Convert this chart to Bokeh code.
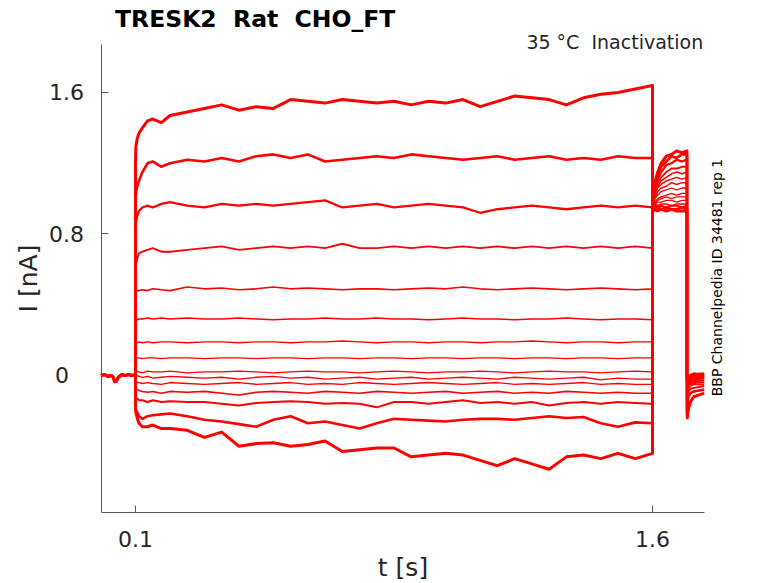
import math
from bokeh.plotting import figure
from bokeh.models import Range1d, Label, FixedTicker
from bokeh.embed import file_html
from bokeh.resources import INLINE

# ---------------- data ----------------
x_ticks = [0.1, 1.6]
y_ticks = [0.0, 0.8, 1.6]
x_axis_span = [0.0, 1.75]
y_axis_span = [-0.775, 1.871]

# holding period before the step (all sweeps overlap here)
t_base = [0.0, 0.01, 0.02, 0.03, 0.035, 0.04, 0.045, 0.05, 0.06, 0.07, 0.08, 0.09, 0.1]
i_base = [0.0, 0.005, -0.005, 0.0, -0.01, -0.035, -0.03, -0.01, 0.005, 0.0, 0.005, 0.0, 0.005]

# conditioning step 0.1 .. 1.6 s
t_step = [0.1, 0.101, 0.105, 0.11, 0.12, 0.135, 0.15, 0.175, 0.2, 0.25, 0.3, 0.35, 0.4,
          0.45, 0.5, 0.55, 0.6, 0.65, 0.7, 0.75, 0.8, 0.85, 0.9, 0.95, 1.0, 1.05, 1.1,
          1.15, 1.2, 1.25, 1.3, 1.35, 1.4, 1.45, 1.5, 1.55, 1.6]
i_step = [
    [1.20, 1.29, 1.34, 1.37, 1.40, 1.44, 1.45, 1.43, 1.47, 1.49, 1.51, 1.53, 1.50, 1.52, 1.51, 1.56, 1.55, 1.54, 1.56,
     1.55, 1.54, 1.55, 1.53, 1.55, 1.54, 1.56, 1.52, 1.55, 1.58, 1.57, 1.56, 1.53, 1.57, 1.59, 1.60, 1.62, 1.64],
    [0.95, 1.02, 1.07, 1.10, 1.15, 1.20, 1.21, 1.18, 1.20, 1.22, 1.21, 1.23, 1.21, 1.24, 1.25, 1.23, 1.25, 1.21, 1.22,
     1.23, 1.24, 1.23, 1.25, 1.24, 1.23, 1.22, 1.23, 1.24, 1.22, 1.23, 1.24, 1.22, 1.23, 1.22, 1.24, 1.23, 1.23],
    [0.80, 0.86, 0.90, 0.93, 0.95, 0.96, 0.95, 0.97, 0.98, 0.96, 0.95, 0.97, 0.96, 0.97, 0.96, 0.97, 0.98, 0.99, 0.95,
     0.96, 0.97, 0.95, 0.96, 0.97, 0.96, 0.95, 0.92, 0.94, 0.95, 0.96, 0.95, 0.94, 0.95, 0.96, 0.95, 0.96, 0.95],
    [0.58, 0.62, 0.66, 0.69, 0.70, 0.71, 0.72, 0.70, 0.70, 0.71, 0.72, 0.73, 0.71, 0.72, 0.73, 0.72, 0.73, 0.72, 0.745,
     0.72, 0.72, 0.73, 0.72, 0.73, 0.72, 0.73, 0.72, 0.73, 0.72, 0.73, 0.72, 0.73, 0.72, 0.73, 0.72, 0.73, 0.72],
    [0.44, 0.47, 0.48, 0.48, 0.485, 0.48, 0.49, 0.485, 0.48, 0.50, 0.49, 0.495, 0.485, 0.49, 0.50, 0.49, 0.495, 0.49,
     0.485, 0.49, 0.49, 0.485, 0.49, 0.495, 0.49, 0.50, 0.49, 0.485, 0.49, 0.495, 0.49, 0.485, 0.49, 0.495, 0.49, 0.485, 0.49],
    [0.29, 0.31, 0.315, 0.32, 0.32, 0.325, 0.32, 0.325, 0.32, 0.325, 0.32, 0.32, 0.325, 0.32, 0.315, 0.32, 0.32, 0.325,
     0.32, 0.32, 0.325, 0.32, 0.32, 0.315, 0.32, 0.325, 0.32, 0.32, 0.315, 0.32, 0.32, 0.325, 0.32, 0.315, 0.32, 0.32, 0.315],
    [0.17, 0.18, 0.185, 0.19, 0.185, 0.19, 0.185, 0.19, 0.19, 0.185, 0.19, 0.19, 0.185, 0.19, 0.19, 0.185, 0.19, 0.19,
     0.195, 0.19, 0.185, 0.19, 0.19, 0.185, 0.19, 0.19, 0.185, 0.19, 0.19, 0.195, 0.19, 0.185, 0.19, 0.19, 0.185, 0.19, 0.19],
    [0.09, 0.095, 0.10, 0.10, 0.095, 0.10, 0.10, 0.095, 0.10, 0.10, 0.095, 0.10, 0.10, 0.095, 0.10, 0.10, 0.095, 0.10,
     0.10, 0.095, 0.10, 0.10, 0.095, 0.10, 0.10, 0.095, 0.10, 0.10, 0.095, 0.10, 0.10, 0.095, 0.10, 0.10, 0.095, 0.10, 0.10],
    [0.015, 0.02, 0.025, 0.02, 0.015, 0.025, 0.02, 0.02, 0.025, 0.015, 0.02, 0.02, 0.025, 0.02, 0.015, 0.02, 0.025, 0.02,
     0.02, 0.015, 0.02, 0.025, 0.02, 0.015, 0.02, 0.02, 0.025, 0.02, 0.015, 0.02, 0.025, 0.02, 0.02, 0.015, 0.02, 0.025, 0.02],
    [-0.01, -0.005, 0.0, -0.005, -0.01, -0.005, -0.015, -0.01, -0.005, -0.01, -0.015, -0.01, -0.02, -0.01, -0.005, -0.015,
     -0.01, -0.02, -0.015, -0.01, -0.02, -0.015, -0.01, -0.02, -0.015, -0.01, -0.015, -0.02, -0.01, -0.015, -0.02, -0.015,
     -0.01, -0.025, -0.015, -0.02, -0.02],
    [-0.03, -0.035, -0.04, -0.04, -0.045, -0.04, -0.045, -0.05, -0.04, -0.045, -0.05, -0.045, -0.04, -0.05, -0.045, -0.04,
     -0.05, -0.045, -0.05, -0.04, -0.045, -0.05, -0.045, -0.04, -0.045, -0.05, -0.045, -0.04, -0.05, -0.045, -0.05, -0.045,
     -0.04, -0.05, -0.045, -0.05, -0.05],
    [-0.06, -0.07, -0.08, -0.085, -0.09, -0.095, -0.09, -0.10, -0.09, -0.095, -0.09, -0.10, -0.11, -0.095, -0.09, -0.095,
     -0.10, -0.09, -0.095, -0.10, -0.09, -0.095, -0.10, -0.095, -0.09, -0.10, -0.095, -0.09, -0.10, -0.095, -0.10, -0.09,
     -0.095, -0.10, -0.095, -0.10, -0.10],
    [-0.12, -0.13, -0.13, -0.14, -0.14, -0.15, -0.14, -0.15, -0.145, -0.15, -0.15, -0.16, -0.17, -0.155, -0.15, -0.145,
     -0.15, -0.16, -0.155, -0.16, -0.18, -0.15, -0.15, -0.16, -0.15, -0.14, -0.155, -0.15, -0.16, -0.15, -0.17, -0.155,
     -0.15, -0.16, -0.15, -0.155, -0.16],
    [-0.17, -0.19, -0.21, -0.23, -0.245, -0.23, -0.225, -0.22, -0.215, -0.23, -0.25, -0.26, -0.275, -0.29, -0.25, -0.23,
     -0.27, -0.26, -0.28, -0.30, -0.27, -0.245, -0.25, -0.255, -0.26, -0.25, -0.245, -0.245, -0.25, -0.24, -0.23, -0.24,
     -0.235, -0.27, -0.29, -0.265, -0.27],
    [-0.19, -0.21, -0.24, -0.27, -0.29, -0.29, -0.28, -0.30, -0.30, -0.31, -0.35, -0.32, -0.40, -0.385, -0.38, -0.40,
     -0.39, -0.37, -0.43, -0.42, -0.41, -0.41, -0.46, -0.45, -0.44, -0.45, -0.48, -0.51, -0.47, -0.50, -0.53, -0.46,
     -0.45, -0.47, -0.44, -0.47, -0.44],
]

# test pulse 1.6 .. 1.7 s
t_tail = [1.6, 1.602, 1.607, 1.615, 1.625, 1.64, 1.655, 1.67, 1.685, 1.7]
i_tail = [
    [0.97, 1.02, 1.09, 1.15, 1.20, 1.24, 1.25, 1.27, 1.26, 1.27],
    [0.96, 1.00, 1.08, 1.13, 1.18, 1.21, 1.24, 1.23, 1.25, 1.25],
    [0.95, 0.99, 1.06, 1.11, 1.15, 1.19, 1.20, 1.22, 1.21, 1.22],
    [0.96, 0.99, 1.05, 1.09, 1.12, 1.15, 1.17, 1.17, 1.18, 1.18],
    [0.95, 0.98, 1.03, 1.07, 1.10, 1.12, 1.14, 1.15, 1.14, 1.15],
    [0.96, 0.98, 1.02, 1.06, 1.08, 1.10, 1.11, 1.12, 1.11, 1.12],
    [0.95, 0.97, 1.00, 1.04, 1.06, 1.07, 1.09, 1.08, 1.09, 1.09],
    [0.96, 0.97, 1.00, 1.02, 1.04, 1.05, 1.06, 1.05, 1.06, 1.06],
    [0.95, 0.96, 0.98, 1.00, 1.01, 1.02, 1.03, 1.02, 1.03, 1.03],
    [0.96, 0.96, 0.98, 0.99, 1.00, 1.01, 1.00, 1.01, 1.01, 1.01],
    [0.95, 0.96, 0.97, 0.98, 0.98, 0.99, 0.99, 0.98, 0.99, 0.99],
    [0.96, 0.96, 0.97, 0.96, 0.97, 0.97, 0.96, 0.97, 0.97, 0.97],
    [0.95, 0.95, 0.96, 0.95, 0.96, 0.95, 0.96, 0.96, 0.95, 0.96],
    [0.94, 0.95, 0.94, 0.95, 0.94, 0.95, 0.94, 0.94, 0.95, 0.94],
    [0.94, 0.93, 0.94, 0.93, 0.94, 0.93, 0.94, 0.93, 0.93, 0.93],
]

# return to holding 1.7 .. 1.75 s
t_post = [1.7, 1.701, 1.704, 1.71, 1.72, 1.735, 1.75]
i_post = [
    [0.01, -0.03, -0.01, 0.0, 0.01, 0.005, 0.01],
    [0.0, -0.04, -0.015, -0.005, 0.0, 0.01, 0.005],
    [-0.01, -0.05, -0.02, -0.01, -0.005, 0.0, 0.0],
    [-0.01, -0.05, -0.025, -0.015, -0.01, -0.005, -0.01],
    [-0.02, -0.06, -0.03, -0.02, -0.015, -0.01, -0.01],
    [-0.02, -0.06, -0.035, -0.025, -0.02, -0.015, -0.02],
    [-0.03, -0.07, -0.04, -0.03, -0.025, -0.02, -0.02],
    [-0.03, -0.07, -0.045, -0.035, -0.03, -0.025, -0.03],
    [-0.04, -0.08, -0.05, -0.04, -0.035, -0.03, -0.03],
    [-0.04, -0.08, -0.055, -0.045, -0.04, -0.035, -0.04],
    [-0.05, -0.09, -0.06, -0.05, -0.045, -0.04, -0.04],
    [-0.06, -0.10, -0.07, -0.06, -0.05, -0.05, -0.05],
    [-0.08, -0.12, -0.09, -0.075, -0.07, -0.065, -0.06],
    [-0.12, -0.16, -0.12, -0.10, -0.09, -0.085, -0.08],
    [-0.20, -0.24, -0.19, -0.15, -0.12, -0.11, -0.10],
]

# double spaces kept visible with a no-break space
title_text = "TRESK2 \u00a0Rat \u00a0CHO_FT"
cond_text = "35 \u00b0C \u00a0Inactivation"
side_text = "BBP Channelpedia ID 34481 rep 1"

# ---------------- styles ----------------
FONT = "DejaVu Sans"
TXT = "#262626"
AXC = "#555555"
trace_widths = [3.0, 2.6, 2.3, 1.9, 1.6, 1.5, 1.4, 1.3, 1.3, 1.3, 1.4, 1.6, 2.0, 2.6, 3.0]

# the frame covers the whole canvas; the axes are pinned at fixed data
# locations inside it, so nothing (axes, labels, texts) gets clipped
p = figure(width=776, height=581,
           x_range=Range1d(-0.29168, 1.95975), y_range=Range1d(-1.16466, 2.1201),
           output_backend="svg", toolbar_location=None,
           min_border=0, min_border_left=0, min_border_right=0,
           min_border_top=0, min_border_bottom=0)
p.outline_line_color = None
p.grid.visible = False
p.background_fill_color = "white"
p.border_fill_color = "white"

for k in range(len(i_step)):
    xs = t_base + t_step + t_tail + t_post
    ys = i_base + i_step[k] + i_tail[k] + i_post[k]
    p.line(xs, ys, line_color="#ff0000", line_width=trace_widths[k], line_join="round")

for ax in (p.xaxis[0], p.yaxis[0]):
    ax.axis_line_color = AXC
    ax.axis_line_width = 1
    ax.major_tick_line_color = AXC
    ax.major_tick_in = 7
    ax.major_tick_out = 0
    ax.minor_tick_line_color = None
    ax.major_label_text_font = FONT
    ax.major_label_text_font_size = "22px"
    ax.major_label_text_color = TXT
    ax.axis_label_text_font = FONT
    ax.axis_label_text_font_size = "25px"
    ax.axis_label_text_font_style = "normal"
    ax.axis_label_text_color = TXT

p.xaxis.fixed_location = y_axis_span[0]
p.yaxis.fixed_location = x_axis_span[0]
p.xaxis.bounds = (x_axis_span[0], x_axis_span[1])
p.yaxis.bounds = (y_axis_span[0], y_axis_span[1])
p.xaxis.ticker = FixedTicker(ticks=x_ticks)
p.yaxis.ticker = FixedTicker(ticks=y_ticks)
p.xaxis.major_label_overrides = {0.1: "0.1", 1.6: "1.6"}
# the "0" label sits further left in the reference; it is drawn as a Label below
p.yaxis.major_label_overrides = {0.0: "", 0.8: "0.8", 1.6: "1.6"}
p.xaxis.axis_label = "t [s]"
p.yaxis.axis_label = "I [nA]"
p.xaxis.major_label_standoff = 18
p.xaxis.axis_label_standoff = 3
p.yaxis.major_label_standoff = 17
p.yaxis.axis_label_standoff = 4

p.add_layout(Label(x=x_axis_span[0], y=y_ticks[0], x_offset=-32, text="0",
                   text_font=FONT, text_font_size="22px", text_color=TXT,
                   text_align="right", text_baseline="middle"))
p.add_layout(Label(x=0.0, y=2.018, x_offset=14, text=title_text,
                   text_font=FONT, text_font_size="23.5px", text_font_style="bold",
                   text_color="#000000", text_align="left", text_baseline="middle"))
p.add_layout(Label(x=1.75, y=1.888, x_offset=-1, text=cond_text,
                   text_font=FONT, text_font_size="19px", text_color=TXT,
                   text_align="right", text_baseline="middle"))
p.add_layout(Label(x=1.787, y=0.554, text=side_text, angle=math.pi / 2,
                   text_font=FONT, text_font_size="14px", text_color="#000000",
                   text_align="center", text_baseline="middle"))

open("out.html", "w").write(file_html(p, INLINE))
